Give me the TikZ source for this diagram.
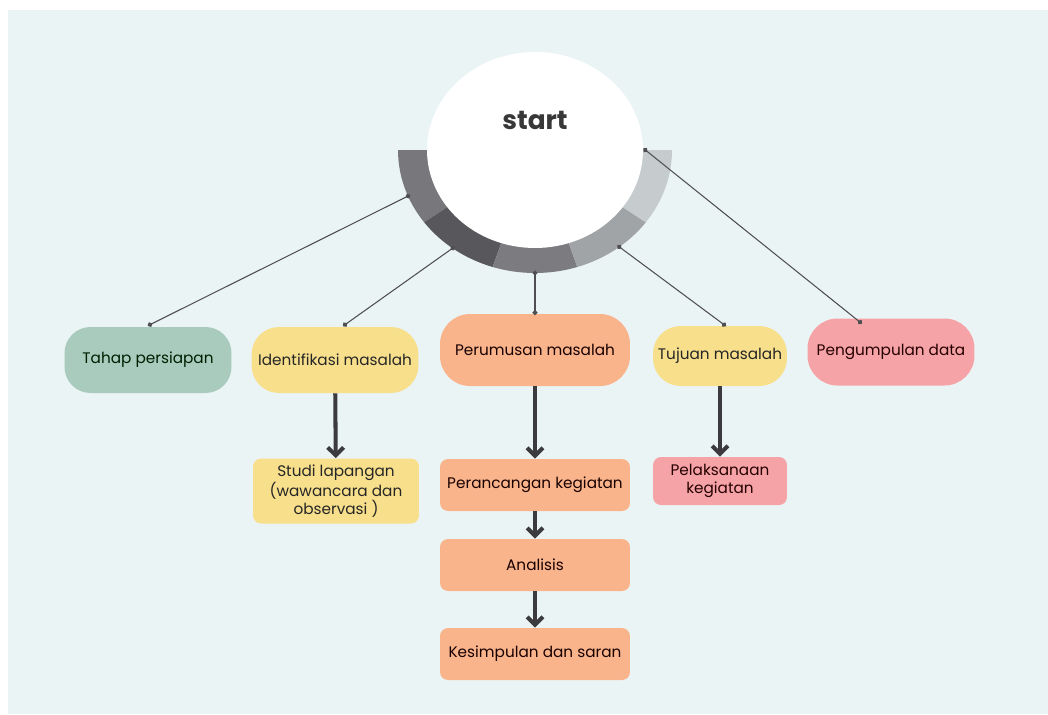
\documentclass[tikz,border=0pt]{standalone}
\usepackage{fontspec}
\setmainfont{Poppins}
\usepackage{xcolor}
\usepackage{tikz}
\usetikzlibrary{arrows.meta}
\usetikzlibrary{shapes.geometric}
\definecolor{bgblue}{HTML}{EBF4F5}
\definecolor{sage}{HTML}{A8CBBD}
\definecolor{sun}{HTML}{F7DF8B}
\definecolor{peach}{HTML}{F9B48B}
\definecolor{rose}{HTML}{F5A3A6}
\definecolor{ringA}{HTML}{78787C}
\definecolor{ringB}{HTML}{58575B}
\definecolor{ringC}{HTML}{7C7B80}
\definecolor{ringD}{HTML}{A1A4A7}
\definecolor{ringE}{HTML}{C6CBCD}
\definecolor{linkgrey}{HTML}{4F4F52}
\definecolor{flowgrey}{HTML}{3B3B3D}
\tikzset{
    boxnode/.style = {align=center, inner sep=0pt, text centered, font=\fontsize{8.7}{10.4}\selectfont},
    pill/.style = {boxnode, rectangle, rounded corners=0.55cm, minimum width=3.34cm, minimum height=1.32cm},
    card/.style = {boxnode, rectangle, rounded corners=0.16cm, minimum width=3.8cm, minimum height=1.04cm},
    sage_pill/.style = {pill, fill=sage, text=black!80!green!60!black},
    sun_pill/.style = {pill, fill=sun, text=black!85},
    sun_card/.style = {card, fill=sun, text=black!85},
    peach_pill/.style = {pill, fill=peach, text=black!75!red!40!black},
    peach_card/.style = {card, fill=peach, text=black!75!red!40!black},
    rose_pill/.style = {pill, fill=rose, text=black!70!red!50!black},
    rose_card/.style = {card, fill=rose, text=black!70!red!50!black},
    link/.style = {draw=linkgrey, line width=0.6pt, {Circle[length=2.8pt, sep=-1.4pt]}-{Circle[length=2.8pt, sep=-1.4pt]}},
    flow/.style = {draw=flowgrey, line width=2.3pt, -{Straight Barb[length=4.5pt, width=9pt]}}
}

\begin{document}
\begin{tikzpicture}[x=0.02cm, y=-0.02cm]
    \useasboundingbox (0,0) rectangle (1048,714);
    \fill[bgblue] (8,10) rectangle (1048,714);

    \coordinate (ctr) at (535,150);
    \foreach \a/\b/\c in {180/144/ringA, 144/108/ringB, 108/72/ringC, 72/36/ringD, 36/0/ringE}
        \fill[\c] ([shift={(\a:137 and 123)}]ctr) arc[start angle=\a, end angle=\b, x radius=137, y radius=123]
            -- ([shift={(\b:95 and 85)}]ctr) arc[start angle=\b, end angle=\a, x radius=95, y radius=85] -- cycle;

    \node (start) [ellipse, fill=white, inner sep=0pt, minimum width=4.32cm, minimum height=3.92cm] at (ctr) {};
    \node (starttitle) [font=\fontsize{15}{18}\selectfont\bfseries, text=black!78] at (535,120) {start};

    \coordinate (r1) at ([shift={(158:137 and 123)}]ctr);
    \coordinate (r2) at ([shift={(127:137 and 123)}]ctr);
    \coordinate (r3) at ([shift={(90:137 and 123)}]ctr);
    \coordinate (r4) at ([shift={(52:137 and 123)}]ctr);

    \node (tahap) [sage_pill, rounded corners=0.52cm] at (148,360) {Tahap persiapan};
    \node (iden) [sun_pill] at (335,360) {Identifikasi masalah};
    \node (studi) [sun_card, minimum width=3.32cm, minimum height=1.3cm] at (336,491) {Studi lapangan\\(wawancara dan\\observasi )};
    \node (perum) [peach_pill, minimum width=3.8cm, minimum height=1.44cm, rounded corners=0.6cm] at (535,350) {Perumusan masalah};
    \node (peran) [peach_card] at (535,485) {Perancangan kegiatan};
    \node (anal) [peach_card] at (535,565) {Analisis};
    \node (kesim) [peach_card] at (535,654) {Kesimpulan dan saran};
    \node (tujuan) [sun_pill, minimum width=2.68cm, minimum height=1.2cm] at (720,356) {Tujuan masalah};
    \node (pelak) [rose_card, minimum width=2.68cm, minimum height=0.96cm] at (720,481) {Pelaksanaan\\kegiatan};
    \node (pengum) [rose_pill, minimum height=1.34cm, rounded corners=0.6cm] at (891,352) {Pengumpulan data};

    \draw[link] (r1) -- ([xshift=0.04cm, yshift=0.04cm]tahap.north);
    \draw[link] (r2) -- ([xshift=0.2cm, yshift=0.04cm]iden.north);
    \draw[link] (r3) -- ([yshift=0.02cm]perum.north);
    \draw[link] (r4) -- ([xshift=0.08cm, yshift=0.02cm]tujuan.north);
    \draw[link] ([xshift=0.04cm]start.east) -- ([xshift=-0.62cm, yshift=-0.08cm]pengum.north);

    \draw[flow] (iden) -- (studi);
    \draw[flow] (perum) -- (peran);
    \draw[flow] (peran) -- (anal);
    \draw[flow] (anal) -- (kesim);
    \draw[flow] (tujuan) -- (pelak);
\end{tikzpicture}
\end{document}
